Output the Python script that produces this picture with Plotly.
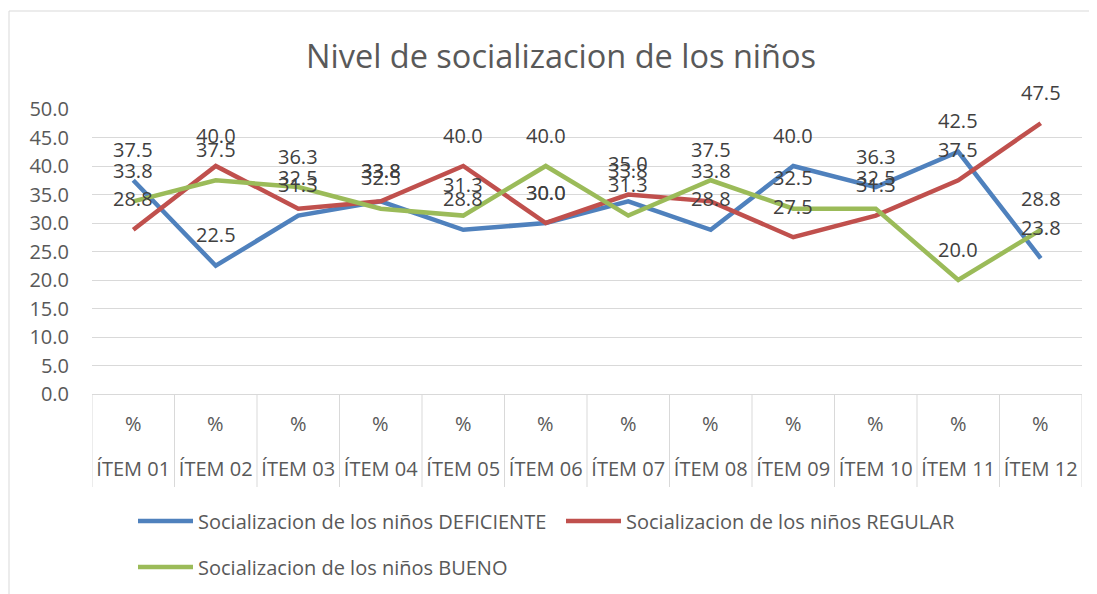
import plotly.graph_objects as go

# Data
items = ["ÍTEM 01", "ÍTEM 02", "ÍTEM 03", "ÍTEM 04", "ÍTEM 05", "ÍTEM 06",
         "ÍTEM 07", "ÍTEM 08", "ÍTEM 09", "ÍTEM 10", "ÍTEM 11", "ÍTEM 12"]
unit = "%"
deficiente = [37.5, 22.5, 31.3, 33.8, 28.8, 30.0, 33.8, 28.8, 40.0, 36.3, 42.5, 23.8]
regular = [28.8, 40.0, 32.5, 33.8, 40.0, 30.0, 35.0, 33.8, 27.5, 31.3, 37.5, 47.5]
bueno = [33.8, 37.5, 36.3, 32.5, 31.3, 40.0, 31.3, 37.5, 32.5, 32.5, 20.0, 28.8]

series = [
    ("Socializacion de los niños DEFICIENTE", deficiente, "#4F81BD", "legend"),
    ("Socializacion de los niños REGULAR", regular, "#C0504D", "legend"),
    ("Socializacion de los niños BUENO", bueno, "#9BBB59", "legend2"),
]

FONT = "Open Sans"
TEXT = "#595959"
GRID = "#D9D9D9"
# page body adds an 8px offset; shrink the figure so the page does not overflow
W, H = 1089, 586
L, T, R, B = 84, 101, 15, 200
PLOT_W, PLOT_H = W - L - R, H - T - B

fig = go.Figure()
for name, vals, color, leg in series:
    fig.add_trace(go.Scatter(
        x=items, y=vals, name=name, mode="lines",
        line=dict(color=color, width=4.5),
        legend=leg,
    ))
    # data labels above each point
    for x, v in zip(items, vals):
        fig.add_annotation(
            x=x, y=v, text=f"{v:.1f}", showarrow=False, yshift=31,
            font=dict(family=FONT, size=20, color="#404040"),
        )

# "%" row of the category axis
for x in items:
    fig.add_annotation(
        x=x, xref="x", y=-29 / PLOT_H, yref="paper", yanchor="middle",
        text=unit, showarrow=False,
        font=dict(family=FONT, size=20, color=TEXT),
    )

# vertical dividers between categories below the axis
for i in range(len(items) + 1):
    fig.add_shape(
        type="line", xref="x", yref="paper",
        x0=i - 0.5, x1=i - 0.5, y0=0, y1=-93 / PLOT_H,
        line=dict(color=GRID, width=1),
    )

# outer chart border (only left and top edges are visible)
bx0 = -(L - 1) / PLOT_W
by1 = 1 + (T - 3) / PLOT_H
fig.add_shape(type="line", xref="paper", yref="paper",
              x0=bx0, x1=bx0, y0=-1.0, y1=by1,
              line=dict(color=GRID, width=1), layer="below")
fig.add_shape(type="line", xref="paper", yref="paper",
              x0=bx0, x1=1.05, y0=by1, y1=by1,
              line=dict(color=GRID, width=1), layer="below")

fig.update_layout(
    width=W, height=H,
    margin=dict(l=L, r=R, t=T, b=B, autoexpand=False),
    paper_bgcolor="white", plot_bgcolor="white",
    font=dict(family=FONT, color=TEXT),
    title=dict(
        text="Nivel de socializacion de los niños",
        x=553 / W, xanchor="center", y=1 - 49 / H, yanchor="middle",
        font=dict(family=FONT, size=32.5, color=TEXT),
    ),
    xaxis=dict(
        type="category", range=[-0.5, len(items) - 0.5],
        tickfont=dict(size=20, color=TEXT), automargin=False,
        showgrid=False, showline=True, linecolor=GRID, linewidth=1,
        ticks="", ticklabelstandoff=57,
    ),
    yaxis=dict(
        range=[0, 50], dtick=5, tickformat=".1f", automargin=False,
        tickfont=dict(size=20, color=TEXT),
        showgrid=True, gridcolor=GRID, gridwidth=1,
        zeroline=False, showline=False, ticks="", ticklabelstandoff=22,
    ),
    legend=dict(
        orientation="h", xref="container", yref="container",
        x=125 / W, xanchor="left", y=1 - 513 / H, yanchor="middle",
        font=dict(size=20, color=TEXT), itemwidth=55, entrywidth=358,
        bgcolor="rgba(0,0,0,0)",
    ),
    legend2=dict(
        orientation="h", xref="container", yref="container",
        x=125 / W, xanchor="left", y=1 - 559 / H, yanchor="middle",
        font=dict(size=20, color=TEXT), itemwidth=55,
        bgcolor="rgba(0,0,0,0)",
    ),
)

fig.write_html("out.html")
